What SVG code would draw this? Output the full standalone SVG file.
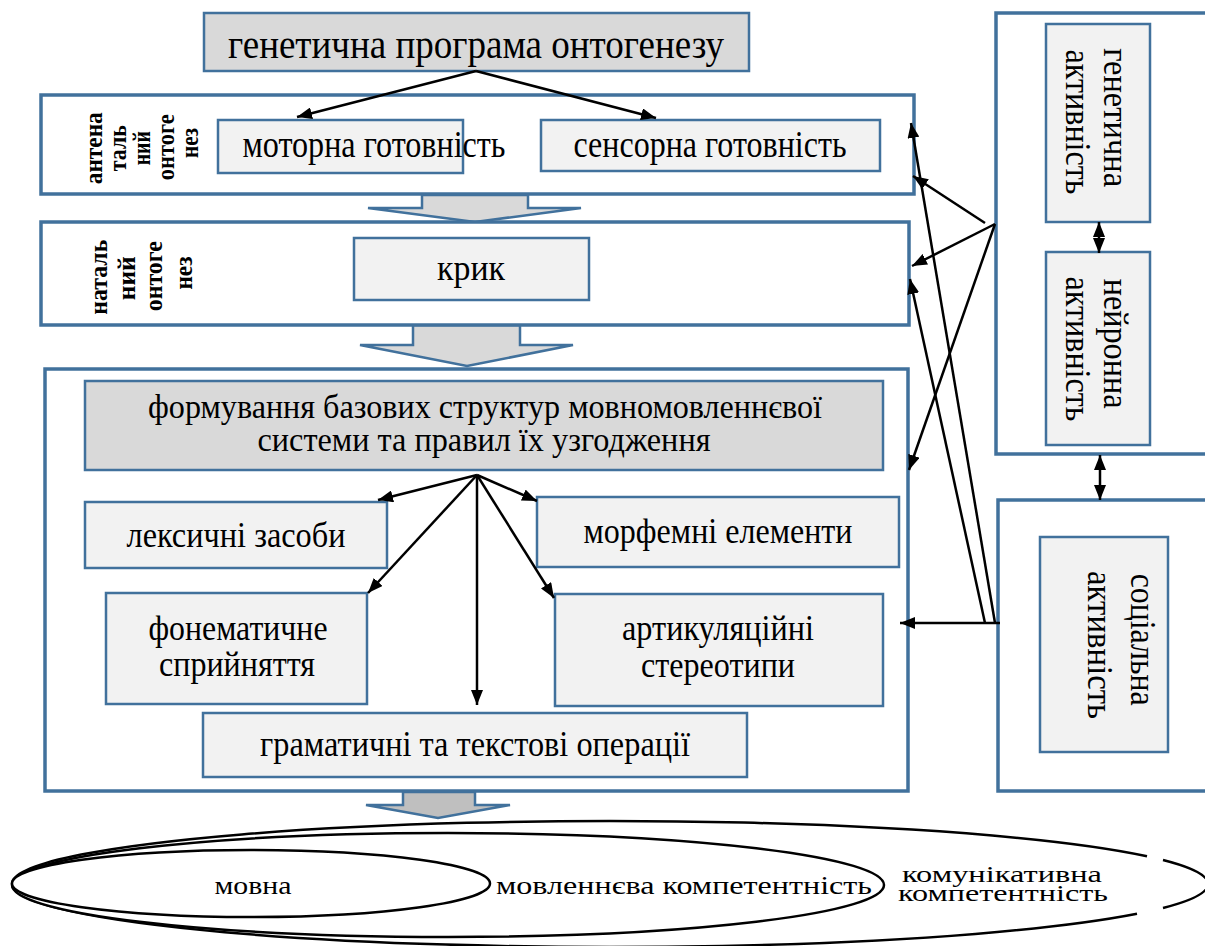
<svg xmlns="http://www.w3.org/2000/svg" width="1205" height="946" viewBox="0 0 1205 946">
<defs>
<style>
.outer{fill:#fff;stroke:#41719C;stroke-width:3.5}
.box{fill:#f2f2f2;stroke:#41719C;stroke-width:2.5}
.dark{fill:#d9d9d9;stroke:#41719C;stroke-width:2.5}
.blk{fill:#d9d9d9;stroke:#41719C;stroke-width:2.5;stroke-linejoin:miter}
.t{fill:#000;text-anchor:middle}
.lb{font-weight:bold;fill:#000;text-anchor:middle}
.c{stroke:#000;stroke-width:2.5;fill:none}
.el{fill:#fff;stroke:#000;stroke-width:2.5}
</style>
<marker id="ah" viewBox="0 0 15 12" refX="15" refY="6" markerWidth="15" markerHeight="12" markerUnits="userSpaceOnUse" orient="auto-start-reverse">
<path d="M0,0 L15,6 L0,12 z" fill="#000"/>
</marker>
</defs>

<g id="block-arrows">
<polygon class="blk" points="422,195 528,195 528,208 581,208 475,222 368,208 422,208"/>
<polygon class="blk" points="413,325 520,325 520,345 573,345 467,366 360,345 413,345"/>
<polygon class="blk" style="fill:#bfbfbf" points="403,792 475,792 475,805 510,805 438,818 366,805 403,805"/>
</g>

<g id="top-program">
<rect class="dark" x="204" y="13" width="545" height="58"/>
<text class="t" x="476" y="58" font-family="Liberation Serif" font-size="40" textLength="496" lengthAdjust="spacingAndGlyphs">генетична програма онтогенезу</text>
</g>

<g id="antenatal">
<rect class="outer" x="41" y="95" width="873" height="99"/>
<text class="lb" font-family="Liberation Serif" font-size="26" transform="rotate(-90)">
<tspan x="-145" y="102" textLength="72" lengthAdjust="spacingAndGlyphs">антена</tspan>
<tspan x="-145" y="126" textLength="46" lengthAdjust="spacingAndGlyphs">таль</tspan>
<tspan x="-145" y="150" textLength="34" lengthAdjust="spacingAndGlyphs">ний</tspan>
<tspan x="-144" y="174" textLength="66" lengthAdjust="spacingAndGlyphs">онтоге</tspan>
<tspan x="-143" y="198" textLength="30" lengthAdjust="spacingAndGlyphs">нез</tspan>
</text>
</g>
<g id="motor">
<rect class="box" x="218" y="120" width="245" height="53"/>
<text class="t" x="374" y="157" font-family="Liberation Serif" font-size="37" textLength="263" lengthAdjust="spacingAndGlyphs">моторна готовність</text>
</g>
<g id="sensory">
<rect class="box" x="541" y="120" width="339" height="51"/>
<text class="t" x="710" y="157" font-family="Liberation Serif" font-size="37" textLength="273" lengthAdjust="spacingAndGlyphs">сенсорна готовність</text>
</g>

<g id="natal">
<rect class="outer" x="41" y="222" width="868" height="103"/>
<text class="lb" font-family="Liberation Serif" font-size="26" transform="rotate(-90)">
<tspan x="-274" y="107" textLength="75" lengthAdjust="spacingAndGlyphs">наталь</tspan>
<tspan x="-275" y="135" textLength="44" lengthAdjust="spacingAndGlyphs">ний</tspan>
<tspan x="-273" y="162" textLength="70" lengthAdjust="spacingAndGlyphs">онтоге</tspan>
<tspan x="-273" y="192" textLength="33" lengthAdjust="spacingAndGlyphs">нез</tspan>
</text>
</g>
<g id="kryk">
<rect class="box" x="354" y="238" width="235" height="62"/>
<text class="t" x="471" y="280" font-family="Liberation Serif" font-size="36" textLength="68" lengthAdjust="spacingAndGlyphs">крик</text>
</g>

<g id="formation-stage">
<rect class="outer" x="45" y="369" width="863" height="422"/>
</g>
<g id="formation">
<rect class="dark" x="85" y="381" width="798" height="89"/>
<text class="t" x="485" y="418" font-family="Liberation Serif" font-size="34" textLength="674" lengthAdjust="spacingAndGlyphs">формування базових структур мовномовленнєвої</text>
<text class="t" x="484" y="451" font-family="Liberation Serif" font-size="34" textLength="453" lengthAdjust="spacingAndGlyphs">системи та правил їх узгодження</text>
</g>
<g id="lexical">
<rect class="box" x="85" y="502" width="302" height="66"/>
<text class="t" x="236" y="547" font-family="Liberation Serif" font-size="36" textLength="219" lengthAdjust="spacingAndGlyphs">лексичні засоби</text>
</g>
<g id="morpheme">
<rect class="box" x="537" y="497" width="362" height="70"/>
<text class="t" x="718" y="543" font-family="Liberation Serif" font-size="36" textLength="269" lengthAdjust="spacingAndGlyphs">морфемні елементи</text>
</g>
<g id="phonematic">
<rect class="box" x="106" y="593" width="261" height="111"/>
<text class="t" x="238" y="640" font-family="Liberation Serif" font-size="36" textLength="179" lengthAdjust="spacingAndGlyphs">фонематичне</text>
<text class="t" x="237" y="676" font-family="Liberation Serif" font-size="36" textLength="156" lengthAdjust="spacingAndGlyphs">сприйняття</text>
</g>
<g id="articulation">
<rect class="box" x="555" y="594" width="328" height="112"/>
<text class="t" x="718" y="640" font-family="Liberation Serif" font-size="36" textLength="192" lengthAdjust="spacingAndGlyphs">артикуляційні</text>
<text class="t" x="718" y="677" font-family="Liberation Serif" font-size="36" textLength="154" lengthAdjust="spacingAndGlyphs">стереотипи</text>
</g>
<g id="grammar">
<rect class="box" x="203" y="713" width="544" height="64"/>
<text class="t" x="475" y="756" font-family="Liberation Serif" font-size="36" textLength="430" lengthAdjust="spacingAndGlyphs">граматичні та текстові операції</text>
</g>

<g id="activity-frame">
<rect class="outer" x="996" y="13" width="220" height="441"/>
</g>
<g id="genetic-activity">
<rect class="box" x="1046" y="24" width="104" height="198"/>
<text class="t" font-family="Liberation Serif" font-size="35" transform="rotate(90)">
<tspan x="122" y="-1104" textLength="139" lengthAdjust="spacingAndGlyphs">генетична</tspan>
<tspan x="122" y="-1066" textLength="145" lengthAdjust="spacingAndGlyphs">активність</tspan>
</text>
</g>
<g id="neuron-activity">
<rect class="box" x="1046" y="252" width="104" height="193"/>
<text class="t" font-family="Liberation Serif" font-size="35" transform="rotate(90)">
<tspan x="348" y="-1104" textLength="130" lengthAdjust="spacingAndGlyphs">нейронна</tspan>
<tspan x="349" y="-1066" textLength="145" lengthAdjust="spacingAndGlyphs">активність</tspan>
</text>
</g>
<g id="social-frame">
<rect class="outer" x="998" y="500" width="220" height="291"/>
</g>
<g id="social-activity">
<rect class="box" x="1040" y="537" width="128" height="215"/>
<text class="t" font-family="Liberation Serif" font-size="35" transform="rotate(90)">
<tspan x="644" y="-1131" textLength="132" lengthAdjust="spacingAndGlyphs">соціальна</tspan>
<tspan x="645" y="-1088" textLength="148" lengthAdjust="spacingAndGlyphs">активність</tspan>
</text>
</g>

<g id="competences">
<path class="el" d="M1147,856.3 A598,63 0 1 0 1137,913.8"/>
<path class="c" d="M1163,860 A598,63 0 0 1 1163,908"/>
<ellipse class="el" cx="448" cy="885" rx="436" ry="52"/>
<ellipse class="el" cx="251" cy="883.5" rx="239" ry="33.5"/>
<text class="t" x="253" y="894" font-family="Liberation Serif" font-size="25" textLength="77" lengthAdjust="spacingAndGlyphs">мовна</text>
<text class="t" x="684" y="894" font-family="Liberation Serif" font-size="25" textLength="376" lengthAdjust="spacingAndGlyphs">мовленнєва компетентність</text>
<text class="t" x="1002" y="882" font-family="Liberation Serif" font-size="23" textLength="200" lengthAdjust="spacingAndGlyphs">комунікативна</text>
<text class="t" x="1003" y="901" font-family="Liberation Serif" font-size="23" textLength="210" lengthAdjust="spacingAndGlyphs">компетентність</text>
</g>

<g id="connectors">
<line class="c" x1="476" y1="71" x2="297" y2="117" marker-end="url(#ah)"/>
<line class="c" x1="476" y1="71" x2="656" y2="118" marker-end="url(#ah)"/>
<line class="c" x1="477" y1="475" x2="378" y2="500" marker-end="url(#ah)"/>
<line class="c" x1="477" y1="475" x2="368" y2="593" marker-end="url(#ah)"/>
<line class="c" x1="477" y1="475" x2="477" y2="705" marker-end="url(#ah)"/>
<line class="c" x1="477" y1="475" x2="537" y2="501" marker-end="url(#ah)"/>
<line class="c" x1="477" y1="475" x2="554" y2="598" marker-end="url(#ah)"/>
<line class="c" x1="985" y1="223" x2="913" y2="176" marker-end="url(#ah)"/>
<line class="c" x1="995" y1="224" x2="912" y2="266" marker-end="url(#ah)"/>
<line class="c" x1="995" y1="224" x2="909" y2="470" marker-end="url(#ah)"/>
<line class="c" x1="995" y1="623" x2="911" y2="123" marker-end="url(#ah)"/>
<line class="c" x1="985" y1="623" x2="910" y2="279" marker-end="url(#ah)"/>
<line class="c" x1="1000" y1="623" x2="900" y2="623" marker-end="url(#ah)"/>
<line class="c" x1="1099" y1="222" x2="1099" y2="253" marker-start="url(#ah)" marker-end="url(#ah)"/>
<line class="c" x1="1100" y1="455" x2="1100" y2="500" marker-start="url(#ah)" marker-end="url(#ah)"/>
</g>
</svg>
